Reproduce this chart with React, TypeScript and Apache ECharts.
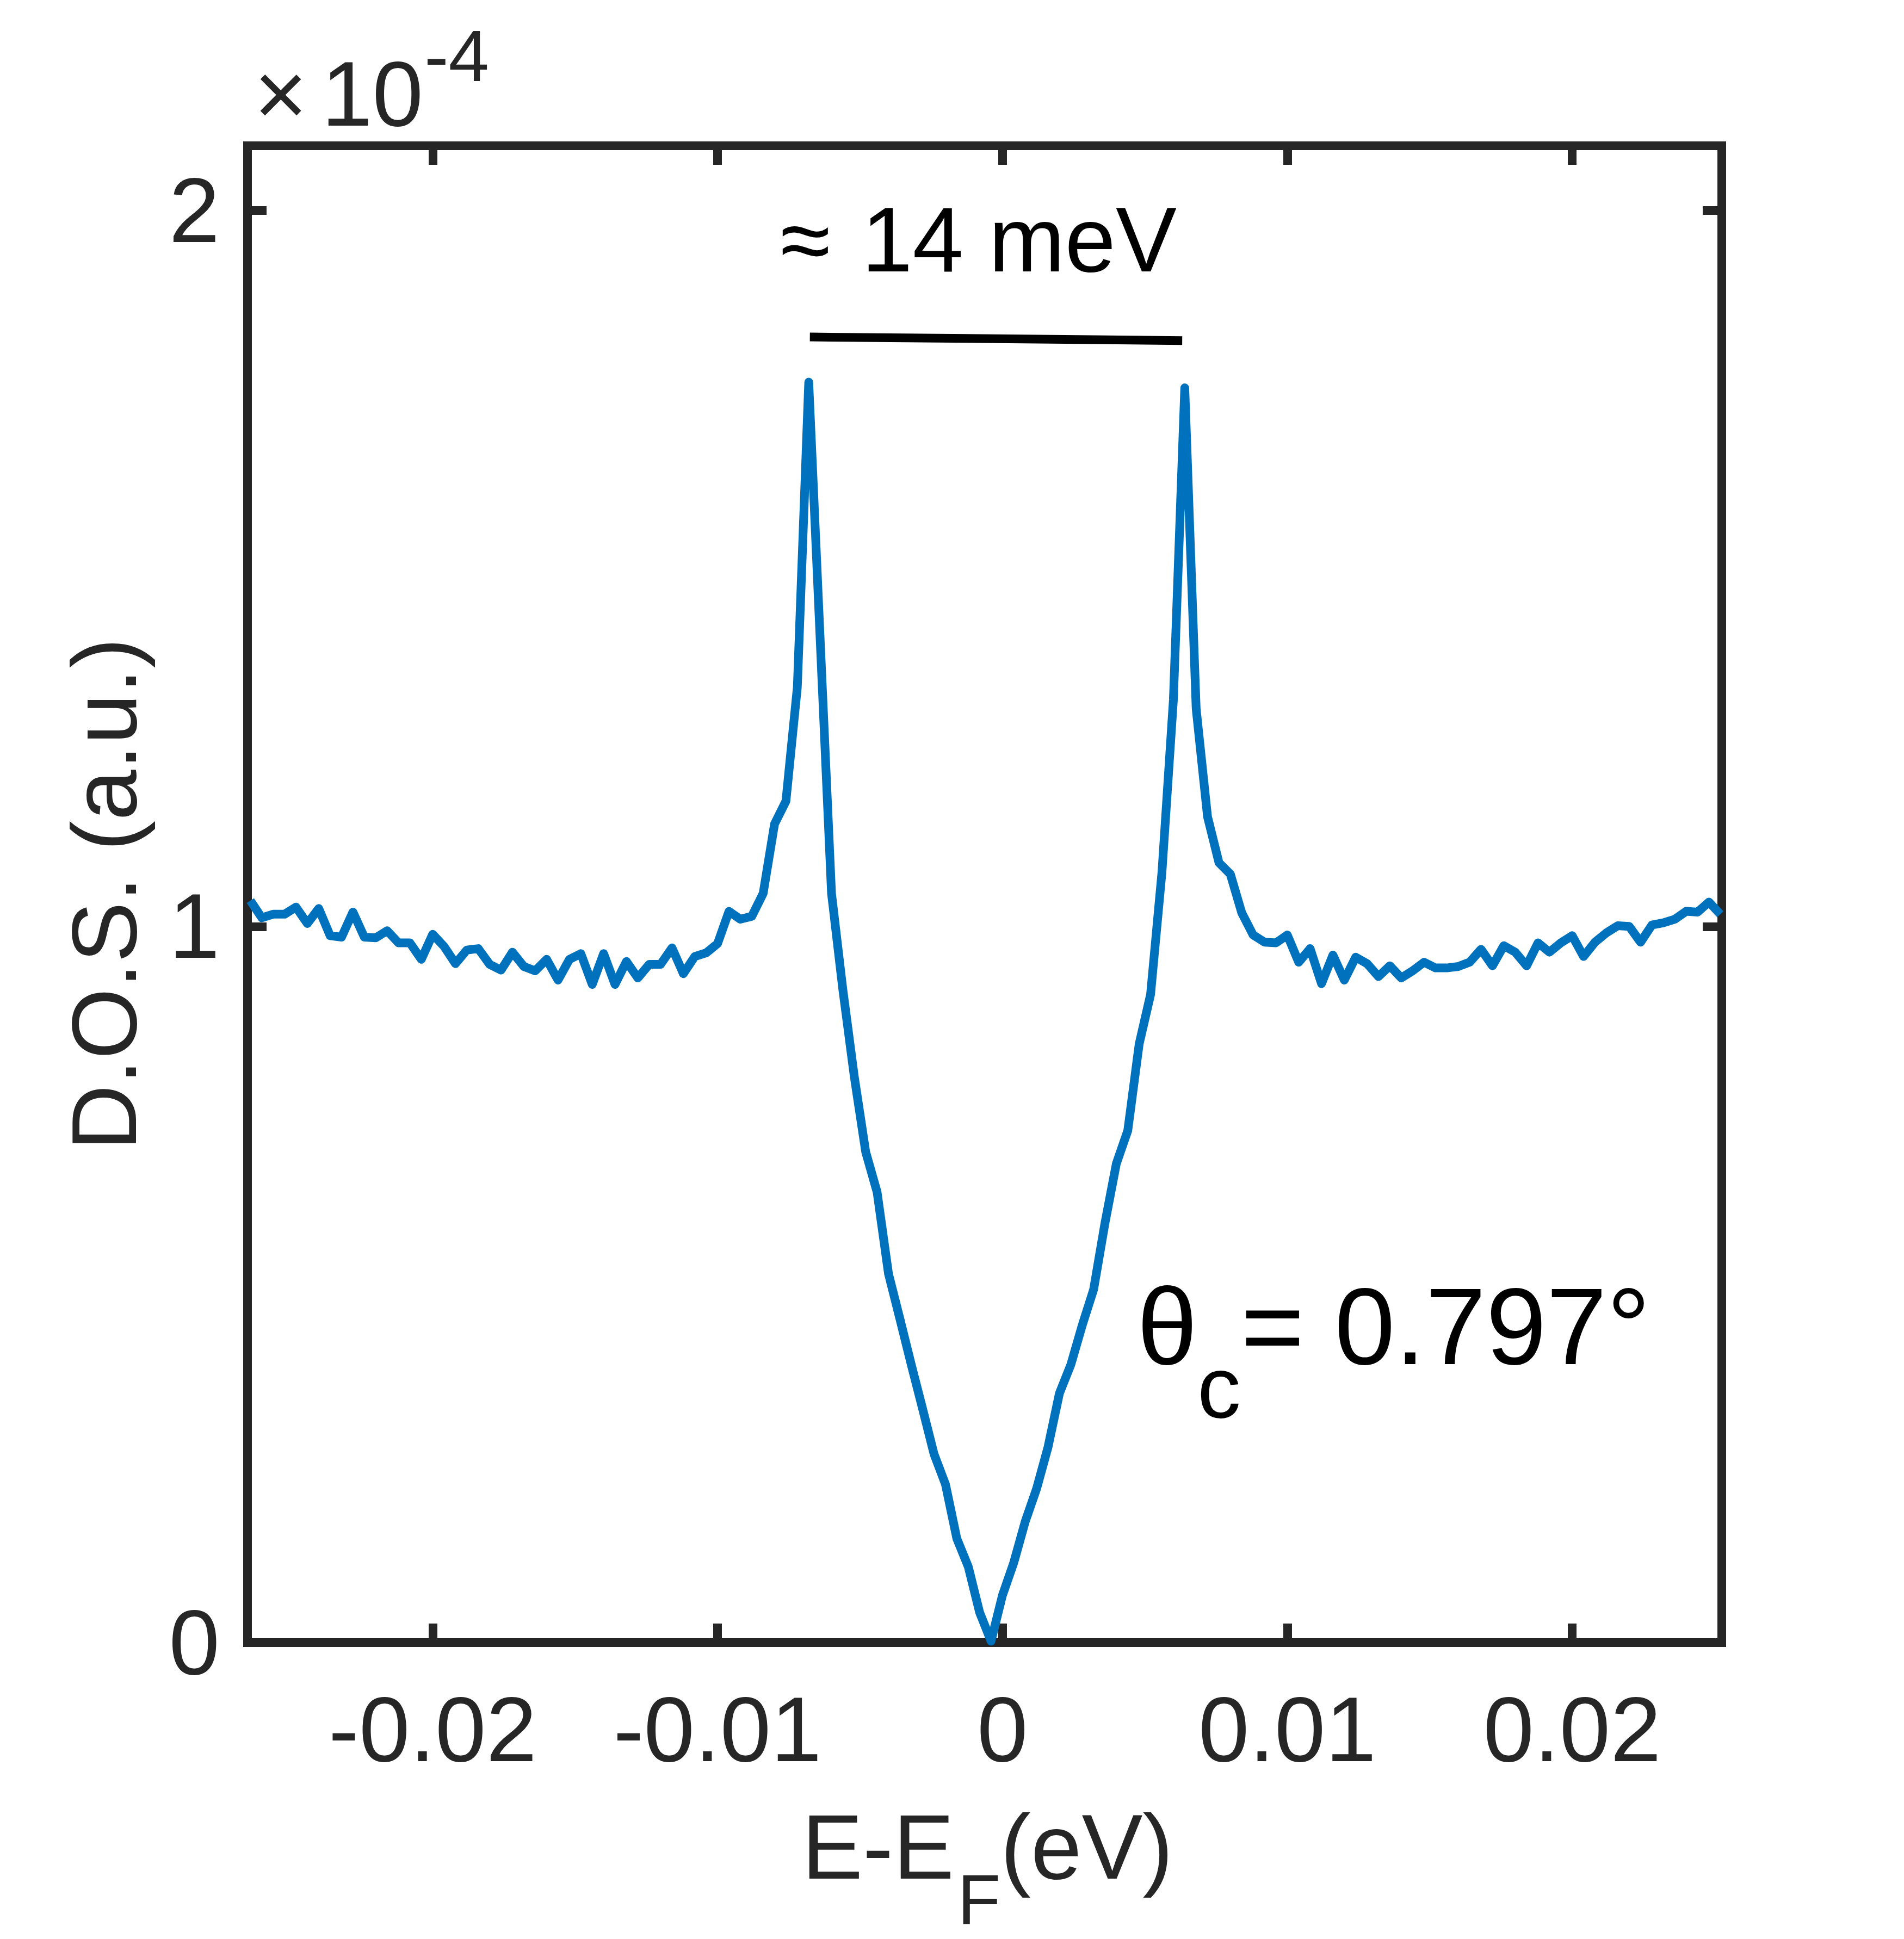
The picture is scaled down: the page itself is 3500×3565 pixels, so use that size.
import React, { useEffect, useRef } from 'react';
import * as echarts from 'echarts';

// Energy grid E - E_F (eV)
const energy = [
  -0.0264, -0.0260, -0.0256, -0.0252, -0.0248, -0.0244, -0.0240, -0.0236, -0.0232, -0.0228,
  -0.0224, -0.0220, -0.0216, -0.0212, -0.0208, -0.0204, -0.0200, -0.0196, -0.0192, -0.0188,
  -0.0184, -0.0180, -0.0176, -0.0172, -0.0168, -0.0164, -0.0160, -0.0156, -0.0152, -0.0148,
  -0.0144, -0.0140, -0.0136, -0.0132, -0.0128, -0.0124, -0.0120, -0.0116, -0.0112, -0.0108,
  -0.0104, -0.0100, -0.0096, -0.0092, -0.0088, -0.0084, -0.0080, -0.0076, -0.0072, -0.0068,
  -0.0064, -0.0060, -0.0056, -0.0052, -0.0048, -0.0044, -0.0040, -0.0036, -0.0032, -0.0028,
  -0.0024, -0.0020, -0.0016, -0.0012, -0.0008, -0.0004, 0.0000, 0.0004, 0.0008, 0.0012,
  0.0016, 0.0020, 0.0024, 0.0028, 0.0032, 0.0036, 0.0040, 0.0044, 0.0048, 0.0052,
  0.0056, 0.0060, 0.0064, 0.0068, 0.0072, 0.0076, 0.0080, 0.0084, 0.0088, 0.0092,
  0.0096, 0.0100, 0.0104, 0.0108, 0.0112, 0.0116, 0.0120, 0.0124, 0.0128, 0.0132,
  0.0136, 0.0140, 0.0144, 0.0148, 0.0152, 0.0156, 0.0160, 0.0164, 0.0168, 0.0172,
  0.0176, 0.0180, 0.0184, 0.0188, 0.0192, 0.0196, 0.0200, 0.0204, 0.0208, 0.0212,
  0.0216, 0.0220, 0.0224, 0.0228, 0.0232, 0.0236, 0.0240, 0.0244, 0.0248, 0.0252,
];

// Density of states (x 1e-4, a.u.)
const dos = [
  1.036, 1.012, 1.017, 1.017, 1.027, 1.004, 1.025, 0.987, 0.985, 1.020,
  0.985, 0.984, 0.994, 0.977, 0.977, 0.954, 0.989, 0.972, 0.948, 0.967,
  0.969, 0.947, 0.939, 0.964, 0.944, 0.938, 0.954, 0.925, 0.954, 0.962,
  0.919, 0.962, 0.919, 0.951, 0.928, 0.947, 0.947, 0.970, 0.934, 0.958,
  0.963, 0.976, 1.021, 1.010, 1.014, 1.046, 1.143, 1.175, 1.334, 1.760,
  1.402, 1.046, 0.911, 0.790, 0.685, 0.629, 0.515, 0.452, 0.388, 0.326,
  0.263, 0.221, 0.145, 0.106, 0.042, 0.002, 0.066, 0.112, 0.169, 0.215,
  0.273, 0.348, 0.388, 0.443, 0.493, 0.586, 0.669, 0.715, 0.836, 0.905,
  1.076, 1.316, 1.752, 1.304, 1.153, 1.089, 1.073, 1.019, 0.988, 0.978,
  0.977, 0.988, 0.950, 0.969, 0.920, 0.960, 0.925, 0.957, 0.948, 0.930,
  0.945, 0.928, 0.938, 0.950, 0.942, 0.942, 0.944, 0.950, 0.968, 0.945,
  0.973, 0.964, 0.945, 0.977, 0.964, 0.977, 0.987, 0.958, 0.978, 0.991,
  1.001, 1.000, 0.978, 1.002, 1.005, 1.010, 1.021, 1.020, 1.034, 1.017,
];

const xTicks = [-0.02, -0.01, 0, 0.01, 0.02];
const yTicks = [0, 1, 2];

// Gap marker bar between the coherence peaks
const gapBarX = [-0.00676, 0.00631];
const gapBarY = [1.823, 1.818];

const FONT = '"Liberation Sans", Arial, Helvetica, sans-serif';
const AX = '#262626';

function txt(text: string, x: number, y: number, fs: number, fill: string) {
  return {
    type: 'text',
    x,
    y,
    silent: true,
    style: {
      text,
      fontSize: fs,
      fontFamily: FONT,
      fill,
      align: 'left',
      verticalAlign: 'middle',
      textAlign: 'left',
      textVerticalAlign: 'middle',
    },
  };
}

export default function App() {
  const ref = useRef<HTMLDivElement>(null);

  useEffect(() => {
    const chart = echarts.init(ref.current as HTMLDivElement, null, { renderer: 'svg' });

    const axisLine = { show: true, onZero: false, lineStyle: { color: AX, width: 16, cap: 'square' } };
    const tickStyle = { color: AX, width: 16 };
    const X_MIN = -0.0265;
    const X_MAX = 0.02525;

    const xMain = {
      type: 'value',
      min: X_MIN,
      max: X_MAX,
      position: 'bottom',
      axisLine,
      axisTick: { show: true, inside: true, length: 35, lineStyle: tickStyle, customValues: xTicks },
      axisLabel: {
        show: true,
        customValues: xTicks,
        margin: 76,
        fontSize: 168,
        fontFamily: FONT,
        color: AX,
      },
      splitLine: { show: false },
    };
    const xTop = {
      type: 'value',
      min: X_MIN,
      max: X_MAX,
      position: 'top',
      axisLine,
      axisTick: { show: true, inside: true, length: 35, lineStyle: tickStyle, customValues: xTicks },
      axisLabel: { show: false },
      splitLine: { show: false },
    };
    const yMain = {
      type: 'value',
      min: 0,
      max: 2.09,
      position: 'left',
      axisLine,
      axisTick: { show: true, inside: true, length: 35, lineStyle: tickStyle, customValues: yTicks },
      axisLabel: {
        show: true,
        customValues: yTicks,
        margin: 51,
        fontSize: 168,
        fontFamily: FONT,
        color: AX,
      },
      splitLine: { show: false },
      name: 'D.O.S. (a.u.)',
      nameLocation: 'middle',
      nameGap: 179,
      nameTextStyle: { fontSize: 168, fontFamily: FONT, color: AX },
    };
    const yRight = {
      type: 'value',
      min: 0,
      max: 2.09,
      position: 'right',
      axisLine,
      axisTick: { show: true, inside: true, length: 35, lineStyle: tickStyle, customValues: yTicks },
      axisLabel: { show: false },
      splitLine: { show: false },
    };

    const option: any = {
      animation: false,
      backgroundColor: '#ffffff',
      grid: { left: 455, right: 335, top: 268, bottom: 545, containLabel: false },
      xAxis: [xMain, xTop],
      yAxis: [yMain, yRight],
      series: [
        {
          type: 'line',
          xAxisIndex: 0,
          yAxisIndex: 0,
          data: energy.map((e, i) => [e, dos[i]]),
          symbol: 'none',
          showSymbol: false,
          clip: true,
          silent: true,
          lineStyle: { color: '#0072BD', width: 16, join: 'round', cap: 'butt' },
          z: 3,
        },
        {
          type: 'line',
          xAxisIndex: 0,
          yAxisIndex: 0,
          data: gapBarX.map((e, i) => [e, gapBarY[i]]),
          symbol: 'none',
          showSymbol: false,
          silent: true,
          lineStyle: { color: '#000000', width: 16, cap: 'butt' },
          z: 3,
        },
      ],
      graphic: [
        txt('×', 467, 173, 168, AX),
        txt('10', 591, 173, 168, AX),
        txt('-4', 780, 102, 134, AX),
        txt('≈', 1434, 441, 168, '#000000'),
        txt('14 meV', 1584, 441, 168, '#000000'),
        txt('θ', 2090, 2438, 200, '#000000'),
        txt('c', 2201, 2550, 160, '#000000'),
        txt('= 0.797°', 2281, 2438, 200, '#000000'),
        txt('E-E', 1474, 3396, 168, AX),
        txt('F', 1760, 3492, 130, AX),
        txt('(eV)', 1839, 3396, 168, AX),
      ],
    };

    chart.setOption(option);
    return () => chart.dispose();
  }, []);

  return (
    <div
      ref={ref}
      style={{ position: 'absolute', left: 0, top: 0, width: 3500, height: 3565, background: '#ffffff' }}
    />
  );
}
